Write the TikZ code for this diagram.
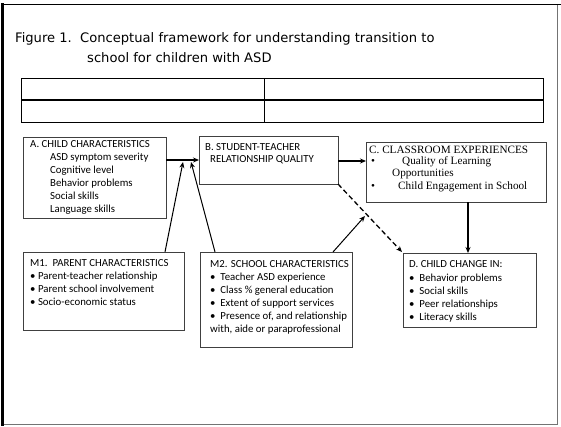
\documentclass[tikz,border=0pt]{standalone}
\usepackage{fontspec}
\setmainfont{Carlito}
\newfontfamily\titlefont{DejaVu Sans}
\newfontfamily\serifface{Liberation Serif}
\usetikzlibrary{arrows.meta}
\begin{document}
\begin{tikzpicture}[x=1pt,y=-1pt,
  box/.style={draw=black!75,line width=0.8pt},
  txt/.style={anchor=base west,inner sep=0pt,font=\fontsize{10.8}{12}\selectfont},
  stxt/.style={anchor=base west,inner sep=0pt,font=\serifface\fontsize{11.2}{12}\selectfont},
  flow/.style={line width=1.8pt,-{Stealth[length=6pt,width=5pt]}},
  thin/.style={line width=1pt,-{Stealth[length=6pt,width=5pt]}},
  dashflow/.style={line width=1.3pt,dash pattern=on 5pt off 3pt,-{Stealth[length=6pt,width=5pt]}}]
\useasboundingbox (0,0) rectangle (561,426);
% frame
\draw[black!55,line width=0.8pt] (557,4) -- (557,424) -- (3,424);
\draw[line width=1.5pt] (1,4.5) -- (561,4.5);
\draw[line width=3pt] (2,3) -- (2,426);
% title
\node[anchor=base west,inner sep=0pt,font=\titlefont\fontsize{13.1}{15}\selectfont] (title1) at (15,42) {Figure 1.\ \ Conceptual framework for understanding transition to};
\node[anchor=base west,inner sep=0pt,font=\titlefont\fontsize{13.1}{15}\selectfont] (title2) at (87,62) {school for children with ASD};
% table
\draw[line width=0.8pt] (21,78) rectangle (543,122);
\draw[line width=1.5pt] (21,100) -- (543,100);
\draw[line width=0.8pt] (264,78) -- (264,122);
% boxes
\draw[box] (23,137) rectangle (166,218);
\coordinate (Aright) at (166,160);
\draw[box] (199,136) rectangle (338,184);
\coordinate (Bleft) at (199,160);
\coordinate (Bright) at (338,161);
\coordinate (Bcorner) at (338,184);
\draw[box] (366,142) rectangle (546,202);
\coordinate (Cleft) at (366,161);
\coordinate (Cbottom) at (468,202);
\draw[box] (403,253) rectangle (536,327);
\coordinate (Dtop) at (468,253);
\coordinate (Dcorner) at (402,252);
\draw[box] (23,252) rectangle (184,330);
\coordinate (M1top) at (165,252);
\draw[box] (200,252) rectangle (352,347);
\coordinate (M2topL) at (215,252);
\coordinate (M2topR) at (333,252);
\coordinate (J1) at (183,162);
\coordinate (J2) at (191,162);
\coordinate (Dmid) at (365,216);
% A text
\node[txt] (a0) at (30,147) {A. CHILD CHARACTERISTICS};
\node[txt] (a1) at (50,160) {ASD symptom severity};
\node[txt] (a2) at (50,173) {Cognitive level};
\node[txt] (a3) at (50,186) {Behavior problems};
\node[txt] (a4) at (50,199) {Social skills};
\node[txt] (a5) at (50,212) {Language skills};
% B text
\node[txt] (b0) at (205,150) {B. STUDENT-TEACHER};
\node[txt] (b1) at (210,162) {RELATIONSHIP QUALITY};
% C text
\node[stxt] (c0) at (369,153) {C. CLASSROOM EXPERIENCES};
\node[stxt] (cb1) at (371,164) {•};
\node[stxt] (c1) at (402,164) {Quality of Learning};
\node[stxt] (c2) at (392,176.5) {Opportunities};
\node[stxt] (cb2) at (371,189) {•};
\node[stxt] (c3) at (398,189) {Child Engagement in School};
% M1 text
\node[txt] (m10) at (30,266) {M1.\ \ PARENT CHARACTERISTICS};
\node[txt] (m11) at (30,279) {• Parent-teacher relationship};
\node[txt] (m12) at (30,292) {• Parent school involvement};
\node[txt] (m13) at (30,305) {• Socio-economic status};
% M2 text
\node[txt] (m20) at (210,267) {M2. SCHOOL CHARACTERISTICS};
\node[txt] (m21) at (210,280) {•\ \ Teacher ASD experience};
\node[txt] (m22) at (210,293) {•\ \ Class \% general education};
\node[txt] (m23) at (210,306) {•\ \ Extent of support services};
\node[txt] (m24) at (210,319) {•\ \ Presence of, and relationship};
\node[txt] (m25) at (210,332) {with, aide or paraprofessional};
% D text
\node[txt] (d0) at (409,267) {D. CHILD CHANGE IN:};
\node[txt] (d1) at (409,281) {•\ \ Behavior problems};
\node[txt] (d2) at (409,294) {•\ \ Social skills};
\node[txt] (d3) at (409,307) {•\ \ Peer relationships};
\node[txt] (d4) at (409,320) {•\ \ Literacy skills};
% connectors
\draw[flow] (Aright) -- (Bleft);
\draw[thin] (M1top) -- (J1);
\draw[thin] (M2topL) -- (J2);
\draw[flow] (Bright) -- (Cleft);
\draw[flow] (Cbottom) -- (Dtop);
\draw[dashflow] (Bcorner) -- (Dcorner);
\draw[thin] (M2topR) -- (Dmid);
\end{tikzpicture}
\end{document}
